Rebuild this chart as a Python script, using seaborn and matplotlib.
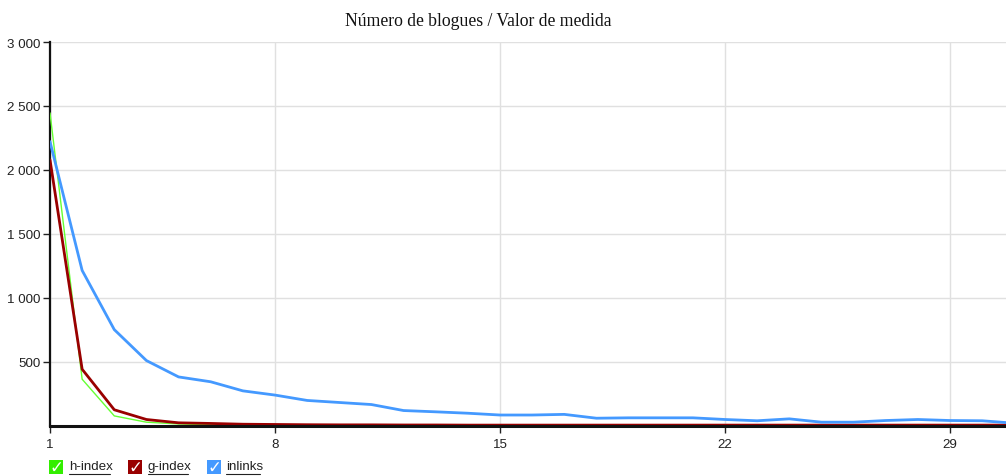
import matplotlib
matplotlib.use("Agg")
import matplotlib.pyplot as plt
import seaborn as sns
import pandas as pd
from matplotlib.patches import Rectangle
from matplotlib.lines import Line2D

x = list(range(1, 32))
h_index = [2445, 362, 75, 26, 12, 6, 4, 3, 2, 2, 2, 1, 1, 1, 1, 1, 1, 1, 1, 1, 1, 1, 1, 1, 1, 1, 1, 1, 1, 1, 1]
g_index = [2078, 440, 123, 47, 21, 16, 10, 8, 6, 5, 5, 4, 4, 3, 3, 3, 3, 3, 3, 3, 3, 3, 3, 3, 3, 3, 3, 3, 3, 3, 3]
inlinks = [2221, 1213, 750, 508, 380, 342, 271, 238, 196, 180, 164, 117, 107, 96, 82, 82, 87, 57, 60, 60, 60, 47, 37, 52, 26, 26, 39, 47, 39, 37, 18]
series_names = ["h-index", "g-index", "inlinks"]
colors = {"h-index": "#66ff33", "g-index": "#990000", "inlinks": "#4499ff"}
widths = {"h-index": 1.0, "g-index": 2.0, "inlinks": 2.0}
x_ticks = [1, 8, 15, 22, 29]
y_ticks = [500, 1000, 1500, 2000, 2500, 3000]
y_labels = ["500", "1 000", "1 500", "2 000", "2 500", "3 000"]
title = "Número de blogues / Valor de medida"

df = pd.DataFrame({"x": x * 3,
                   "value": h_index + g_index + inlinks,
                   "series": sum([[n] * len(x) for n in series_names], [])})

sns.set_theme(style="white")
plt.rcParams["font.family"] = ["Liberation Sans", "DejaVu Sans"]

W, H = 1006, 477
fig = plt.figure(figsize=(W / 100, H / 100), dpi=100)
ax = fig.add_axes([50 / W, (H - 426.5) / H, (1006 - 50) / W, (426.5 - 43) / H])

for n in series_names:
    sns.lineplot(data=df[df.series == n], x="x", y="value", color=colors[n],
                 linewidth=widths[n], ax=ax, legend=False, zorder=3)

ax.set_xlim(1, 1 + (1006 - 50) / (225 / 7))
ax.set_ylim(0, 3000)
ax.set_xticks(x_ticks)
ax.set_xticklabels([str(t) for t in x_ticks])
ax.set_yticks(y_ticks)
ax.set_yticklabels(y_labels)
ax.set_xlabel("")
ax.set_ylabel("")
ax.grid(True, color="#e0e0e0", linewidth=1, zorder=0)
for s in ["top", "right"]:
    ax.spines[s].set_visible(False)
ax.spines["left"].set_color("#111111")
ax.spines["left"].set_linewidth(1.6)
ax.spines["bottom"].set_color("#111111")
ax.spines["bottom"].set_linewidth(2.2)
ax.spines["bottom"].set_zorder(4)
ax.tick_params(axis="both", which="both", length=5, width=1, color="#222222",
               labelsize=9.6, labelcolor="#222222", direction="out",
               left=True, bottom=True)
ax.tick_params(axis="x", pad=4)
ax.tick_params(axis="y", pad=2)

fig.text(478 / W, 1 - 22 / H, title, ha="center", va="center",
         family=["Liberation Serif", "DejaVu Serif"], fontsize=12.7, color="#111111")

# legend with checkbox squares
legend_items = [("h-index", 49, 69), ("g-index", 128, 148), ("inlinks", 207, 226)]
label_widths = {"h-index": 41, "g-index": 40, "inlinks": 34}
box_colors = {"h-index": "#33ee00", "g-index": "#990000", "inlinks": "#4499ff"}
for n, bx, tx in legend_items:
    sz = 14
    fig.patches.append(Rectangle((bx / W, (H - 475) / H), sz / W, sz / H,
                                 transform=fig.transFigure, facecolor=box_colors[n],
                                 edgecolor="none"))
    fig.text((bx + sz / 2) / W, (H - 468) / H, "\u2713", ha="center", va="center",
             color="white", fontsize=12, family=["DejaVu Sans"], fontweight="bold")
    fig.text(tx / W, (H - 467) / H, n, ha="left", va="center", fontsize=9.6, color="#222222")
    fig.lines.append(Line2D([tx / W, (tx + label_widths[n]) / W],
                            [(H - 474.5) / H, (H - 474.5) / H], transform=fig.transFigure,
                            color="#222222", linewidth=0.8))

fig.savefig("out.png", dpi=100)
